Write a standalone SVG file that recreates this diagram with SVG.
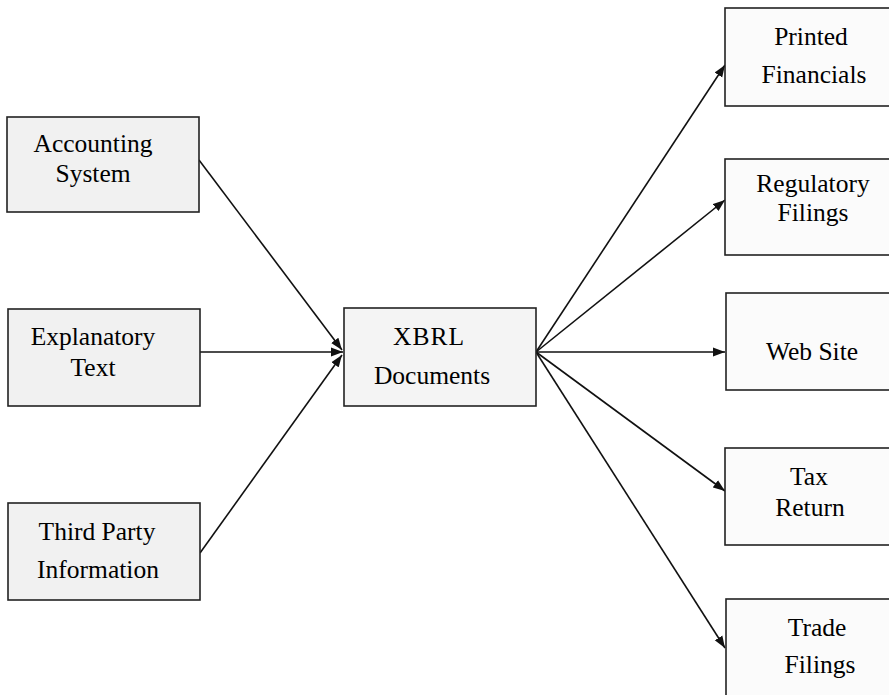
<svg xmlns="http://www.w3.org/2000/svg" width="889" height="695" viewBox="0 0 889 695">
<style>
.box{stroke:#222;stroke-width:1.6;}
.src{fill:#f1f1f1;}
.mid{fill:#f4f4f4;}
.dst{fill:#fbfbfb;}
text{font-family:"Liberation Serif","Times New Roman",serif;font-size:25.5px;fill:#000;text-anchor:middle;}
.edge{stroke:#111;stroke-width:1.6;fill:none;}
</style>
<defs>
<marker id="arr" viewBox="0 0 12 10" refX="12" refY="5" markerWidth="12" markerHeight="10" markerUnits="userSpaceOnUse" orient="auto">
<path d="M0,0.5 L12,5 L0,9.5 Z" fill="#111"/>
</marker>
</defs>
<rect width="889" height="695" fill="#fff"/>
<g id="connectors">
<line class="edge" x1="199" y1="160" x2="342" y2="350" marker-end="url(#arr)"/>
<line class="edge" x1="200" y1="352" x2="343" y2="352" marker-end="url(#arr)"/>
<line class="edge" x1="200" y1="553" x2="342" y2="355" marker-end="url(#arr)"/>
<line class="edge" x1="536" y1="352" x2="725" y2="65" marker-end="url(#arr)"/>
<line class="edge" x1="536" y1="352" x2="725" y2="200" marker-end="url(#arr)"/>
<line class="edge" x1="536" y1="352" x2="725" y2="352" marker-end="url(#arr)"/>
<line class="edge" x1="536" y1="352" x2="725" y2="491" marker-end="url(#arr)"/>
<line class="edge" x1="536" y1="352" x2="725" y2="648" marker-end="url(#arr)"/>
</g>
<g id="accounting-system">
<rect class="box src" x="7" y="117" width="192" height="95"/>
<text x="93" y="152">Accounting</text>
<text x="93" y="182">System</text>
</g>
<g id="explanatory-text">
<rect class="box src" x="8" y="309" width="192" height="97"/>
<text x="93" y="345">Explanatory</text>
<text x="93" y="376">Text</text>
</g>
<g id="third-party-information">
<rect class="box src" x="8" y="503" width="192" height="97"/>
<text x="97" y="540">Third Party</text>
<text x="98" y="578">Information</text>
</g>
<g id="xbrl-documents">
<rect class="box mid" x="344" y="308" width="192" height="98"/>
<text x="429" y="345" letter-spacing="1">XBRL</text>
<text x="432" y="384">Documents</text>
</g>
<g id="printed-financials">
<rect class="box dst" x="725" y="8" width="180" height="98"/>
<text x="811" y="45">Printed</text>
<text x="814" y="83">Financials</text>
</g>
<g id="regulatory-filings">
<rect class="box dst" x="725" y="159" width="180" height="96"/>
<text x="813" y="192">Regulatory</text>
<text x="813" y="221">Filings</text>
</g>
<g id="web-site">
<rect class="box dst" x="726" y="293" width="180" height="97"/>
<text x="812" y="360">Web Site</text>
</g>
<g id="tax-return">
<rect class="box dst" x="725" y="448" width="180" height="97"/>
<text x="809" y="485">Tax</text>
<text x="810" y="516">Return</text>
</g>
<g id="trade-filings">
<rect class="box dst" x="726" y="599" width="180" height="120"/>
<text x="817" y="636">Trade</text>
<text x="820" y="673">Filings</text>
</g>
</svg>
